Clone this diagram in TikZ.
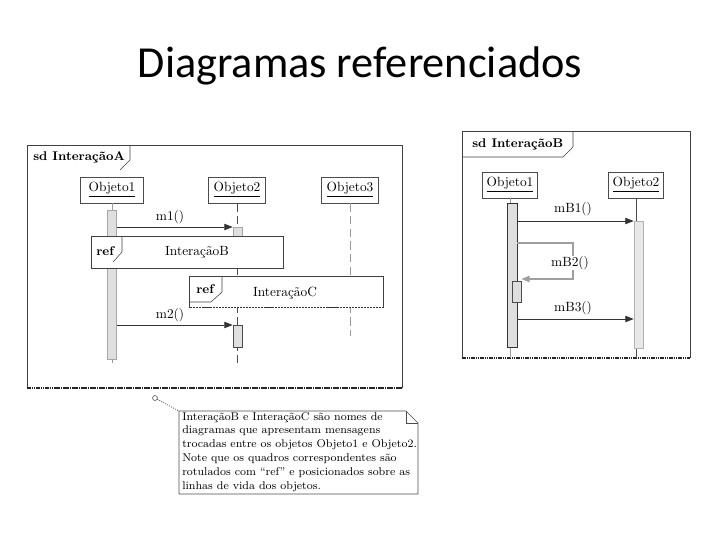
\documentclass[tikz,border=0pt]{standalone}
\usepackage{fontspec}
\newfontfamily\titlefont{Carlito}
\usepackage{tikz}
\usetikzlibrary{arrows.meta,positioning,calc}

\begin{document}
\begin{tikzpicture}[x=0.025cm,y=-0.025cm,
  frame/.style={draw=black!75,line width=0.6pt},
  obj/.style={draw=black!70,fill=white,minimum width=1.43cm,minimum height=0.65cm,
    inner sep=1pt,font=\fontsize{9.5}{11}\selectfont},
  act/.style={draw=gray!70,fill=gray!25,minimum width=0.225cm,inner sep=0pt},
  tag/.style={font=\fontsize{9}{11}\selectfont\bfseries,anchor=west,inner sep=0pt},
  lbl/.style={font=\fontsize{9.5}{11}\selectfont,inner sep=1pt},
  msg/.style={-{Triangle[length=6pt,width=4.5pt]},black!80,line width=0.6pt},
  life/.style={gray!80,line width=0.5pt},
  dlife/.style={black!70,line width=0.5pt,dash pattern=on 6pt off 3pt},
  bottom/.style={black!85,line width=1.1pt,dash pattern=on 1.2pt off 0.4pt}
  ]
\useasboundingbox (0,0) rectangle (720,540);

% Title
\node[font=\titlefont\fontsize{31.5}{36}\selectfont] (title) at (360,66) {Diagramas referenciados};

% Frame: sd InteracaoA
\draw[frame] (27,388) -- (27,145) -- (402,145) -- (402,388);
\draw[bottom] (27,388) -- (402,388);
\draw[frame,line width=0.4pt] (130,145) -- (130,160) -- (120,170);
\node[tag] (tagA) at (33,157) {sd InteraçãoA};

\node[obj,minimum width=1.575cm] (A1) at (112,190) {\underline{Objeto1}};
\node[obj] (A2) at (237,190) {\underline{Objeto2}};
\node[obj] (A3) at (350,190) {\underline{Objeto3}};

\coordinate (A1end) at (112,363);
\coordinate (A2end) at (237,363);
\coordinate (A3end) at (350,336);
\draw[life] (A1.south) -- (A1end);
\draw[dlife] (A2.south) -- (A2end);
\draw[dlife,gray!80] (A3.south) -- (A3end);

\node[act,minimum height=3.725cm] (A1bar) at (112,284.5) {};
\node[act,minimum height=0.25cm] (A2bar1) at (237.5,232) {};
\node[act,minimum height=0.55cm,draw=black!70] (A2bar2) at (237.5,336) {};

\coordinate (m1a) at (117,227);
\coordinate (m2a) at (117,325);
\draw[msg] (m1a) -- (A2bar1.west |- m1a);
\draw[msg] (m2a) -- (A2bar2.west |- m2a);
\node[lbl] (m1) at (170,217) {m1()};
\node[lbl] (m2) at (170,315) {m2()};

% ref boxes
\node[draw=black!75,fill=white,minimum width=4.8cm,minimum height=0.8cm,inner sep=0pt] (refB) at (187,252) {};
\draw[frame,line width=0.4pt] (122,236) -- (122,252) -- (113,262);
\node[tag] (refBt) at (96,251) {ref};
\node[lbl] (refBn) at (197,252) {InteraçãoB};

\node[fill=white,minimum width=4.825cm,minimum height=0.775cm,inner sep=0pt] (refC) at (286.5,292) {};
\draw[frame] (refC.south west) -- (refC.north west) -- (refC.north east) -- (refC.south east);
\draw[black!80,line width=0.7pt,dash pattern=on 1.5pt off 0.6pt] (refC.south west) -- (refC.south east);
\draw[frame,line width=0.4pt] (222,276) -- (222,292) -- (211,302) -- (190,302);
\node[tag] (refCt) at (196,289) {ref};
\node[lbl] (refCn) at (285,293) {InteraçãoC};

% Frame: sd InteracaoB
\draw[frame] (462,358) -- (462,131) -- (690,131) -- (690,358);
\draw[bottom] (462,358) -- (690,358);
\draw[frame,line width=0.4pt] (462,157) -- (563,157) -- (573,147) -- (573,131);
\node[tag] (tagB) at (472,144) {sd InteraçãoB};

\node[obj,minimum width=1.375cm] (B1) at (510,185) {\underline{Objeto1}};
\node[obj,minimum width=1.375cm] (B2) at (636,185) {\underline{Objeto2}};

\coordinate (B1end) at (512,358);
\coordinate (B2end) at (638,358);
\draw[life] (B1.south) -- (B1.south |- B1end);
\draw[life,black!70] (B2.south) -- (B2.south |- B2end);

\node[act,minimum width=0.25cm,minimum height=3.575cm,draw=black!80,line width=0.7pt] (B1bar) at (512,275.5) {};
\node[act,minimum height=3.175cm,fill=gray!18,draw=gray!60] (B2bar) at (638.5,284.5) {};
\node[act,minimum height=0.525cm,draw=black!70] (B1sub) at (516.5,291.5) {};

\coordinate (mB1a) at (517,221);
\coordinate (mB2a) at (517,243);
\coordinate (mB2b) at (573,243);
\coordinate (mB2c) at (573,279);
\coordinate (mB3a) at (517,319);
\draw[msg] (mB1a) -- (B2bar.west |- mB1a);
\draw[msg,gray!75,line width=1.2pt] (mB2a) -- (mB2b) -- (mB2c) -- (B1sub.east |- mB2c);
\draw[msg] (mB3a) -- (B2bar.west |- mB3a);
\node[lbl] (mB1) at (573,209) {mB1()};
\node[lbl,fill=white,inner sep=0pt] (mB2) at (570,263) {mB2()};
\node[lbl] (mB3) at (573,308) {mB3()};

% Note
\node[draw=black!70,circle,inner sep=0pt,minimum size=3.5pt] (pin) at (155,398) {};
\coordinate (noteNW) at (179,411);
\draw[black!70,densely dotted,line width=0.6pt] (pin) -- (noteNW);
\draw[black!70,line width=0.5pt] (noteNW) -- (406,411) -- (418,423) -- (418,494) -- (179,494) -- cycle;
\draw[black!70,line width=0.5pt] (406,411) -- (406,423) -- (418,423);
\node[anchor=north west,align=left,inner sep=0pt,
  font=\fontsize{8}{9.8}\selectfont] (note) at (182,412)
  {InteraçãoB e InteraçãoC são nomes de\\
   diagramas que apresentam mensagens\\
   trocadas entre os objetos Objeto1 e Objeto2.\\
   Note que os quadros correspondentes são\\
   rotulados com ``ref'' e posicionados sobre as\\
   linhas de vida dos objetos.};

\end{tikzpicture}
\end{document}
